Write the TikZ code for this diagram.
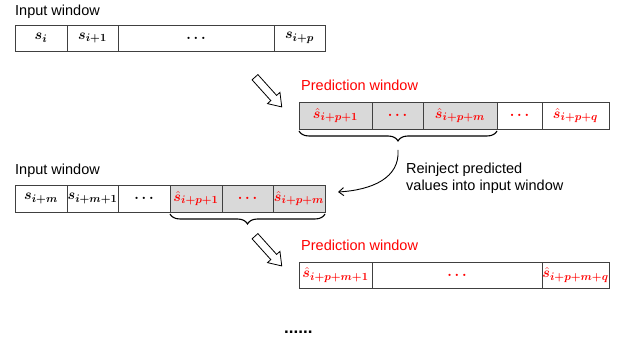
\documentclass[tikz,border=0pt]{standalone}
\usepackage{amsmath}
\usepackage{bm}
\usepackage{fontspec}
\setmainfont{Liberation Sans}
\DeclareMathSizes{14.5}{14.5}{10.5}{8}
\usetikzlibrary{shapes.arrows,decorations.pathreplacing,arrows.meta}
\definecolor{cellgray}{HTML}{D9D9D9}
\definecolor{edge}{HTML}{404040}
\newcommand\mycell[7]{\node[#2, minimum width=#4pt-#3pt, minimum height=#6pt-#5pt] (#1) at ({(#3+#4)/2},{(#5+#6)/2}) {\makebox[0pt]{#7}};}
\newcommand\sv[1]{$\bm{s}_{\bm{#1}}$}
\newcommand\hv[1]{$\hat{\bm{s}}_{\bm{#1}}$}
\newcommand\dd{\raisebox{-1.5pt}{$\bm{\ldots}$}}
\begin{document}
\begin{tikzpicture}[x=1pt,y=-1pt,
  cell/.style={draw=edge, line width=0.8pt, inner sep=0pt, outer sep=0pt, font=\fontsize{14.5}{17}\selectfont},
  gcell/.style={cell, fill=cellgray},
  rtxt/.style={text=red},
  lbl/.style={font=\fontsize{14.5}{17}\selectfont, anchor=base west, inner sep=0pt},
  plbl/.style={lbl, text=red},
  hollow/.style={single arrow, draw=black, line width=0.8pt, fill=white, minimum height=40pt, inner sep=3.5pt, single arrow head extend=4.5pt, single arrow tip angle=70, rotate=-48},
  brc/.style={decorate, decoration={brace, mirror, amplitude=10pt}, line width=1.1pt},
  conn/.style={line width=0.9pt, -{Straight Barb[length=5pt,width=8pt]}}]
\useasboundingbox (0,0) rectangle (622,344);
% Row 1: input window
\node[lbl] (in1) at (15,16) {Input window};
\mycell{a1}{cell}{15}{67}{25}{51}{\sv{i}}
\mycell{a2}{cell}{67}{118}{25}{51}{\sv{i+1}}
\mycell{a3}{cell}{118}{274}{25}{51}{\dd}
\mycell{a4}{cell}{274}{325}{25}{51}{\sv{i+p}}
% hollow arrow 1
\node[hollow] (h1) at (266.5,90) {};
% Row 2: prediction window
\node[plbl] (pw1) at (301,91) {Prediction window};
\mycell{b1}{gcell,rtxt}{299}{372}{102}{129}{\hv{i+p+1}}
\mycell{b2}{gcell,rtxt}{372}{423}{102}{129}{\dd}
\mycell{b3}{gcell,rtxt}{423}{497}{102}{129}{\hv{i+p+m}}
\mycell{b4}{cell,rtxt}{497}{542}{102}{129}{\dd}
\mycell{b5}{cell,rtxt}{542}{609}{102}{129}{\hv{i+p+q}}
\draw[brc] (b1.south west) ++(0,2) coordinate (br1s) -- (b3.south east |- br1s) coordinate (br1e);
\coordinate (bt1) at (398,150);
\coordinate (ae1) at (338,192);
\draw[conn] (bt1) .. controls (400,178) and (372,190) .. (ae1);
\node[lbl, align=left, anchor=north west] (note) at (406,163) {Reinject predicted\\values into input window};
% Row 3: input window
\node[lbl] (in2) at (15,175) {Input window};
\mycell{c1}{cell}{15}{67}{185}{212}{\sv{i+m}}
\mycell{c2}{cell}{67}{118}{185}{212}{\sv{i+m+1}}
\mycell{c3}{cell}{118}{170}{185}{212}{\dd}
\mycell{c4}{gcell,rtxt}{170}{222}{185}{212}{\hv{i+p+1}}
\mycell{c5}{gcell,rtxt}{222}{273}{185}{212}{\dd}
\mycell{c6}{gcell,rtxt}{273}{325}{185}{212}{\hv{i+p+m}}
\draw[brc] (c4.south west) ++(0,2) coordinate (br2s) -- (c6.south east |- br2s) coordinate (br2e);
% hollow arrow 2
\node[hollow] (h2) at (266.5,249) {};
% Row 4: prediction window
\node[plbl] (pw2) at (301,251) {Prediction window};
\mycell{d1}{cell,rtxt}{299}{372}{262}{288}{\hv{i+p+m+1}}
\mycell{d2}{cell,rtxt}{372}{542}{262}{288}{\dd}
\mycell{d3}{cell,rtxt}{542}{609}{262}{288}{\hv{i+p+m+q}}
\node[lbl, font=\fontsize{17}{19}\selectfont] (more) at (284,334) {\textbf{......}};
\end{tikzpicture}
\end{document}
